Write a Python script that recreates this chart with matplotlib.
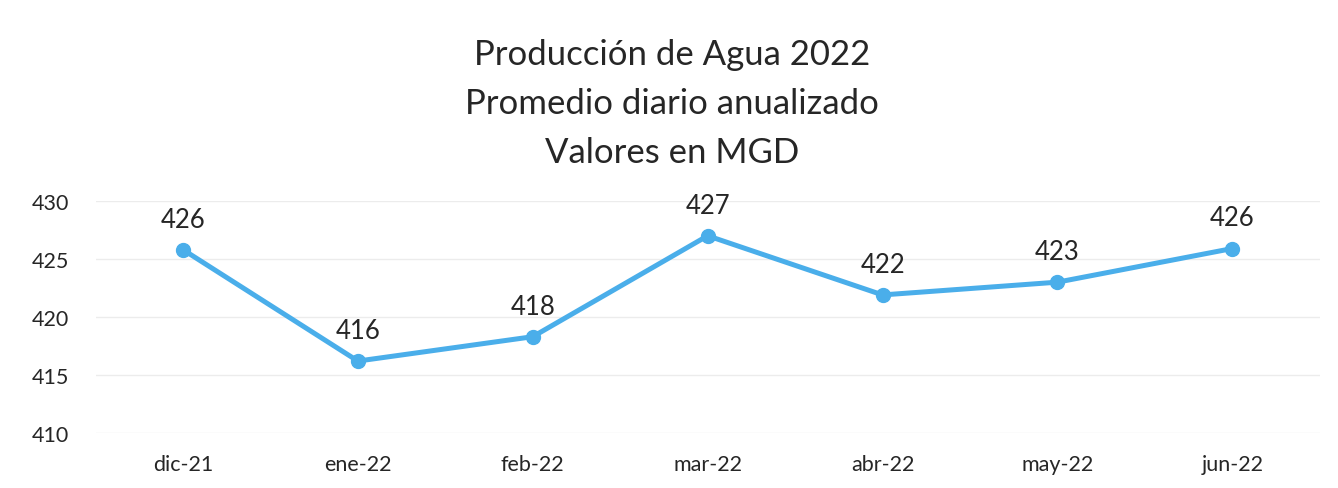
import matplotlib
matplotlib.use("Agg")
import matplotlib.pyplot as plt

months = ["dic-21", "ene-22", "feb-22", "mar-22", "abr-22", "may-22", "jun-22"]
mgd = [425.8, 416.2, 418.3, 427.0, 421.9, 423.0, 425.9]
y_ticks = [410, 415, 420, 425, 430]
title = "Producción de Agua 2022\nPromedio diario anualizado\nValores en MGD"

plt.rcParams["font.family"] = ["Lato", "DejaVu Sans"]
LINE = "#4AAEEA"
TXT = "#262626"

fig = plt.figure(figsize=(13.38, 4.89), dpi=100)
ax = fig.add_axes([0.0714, 0.1125, 0.915, 0.4745])

x = list(range(len(months)))
ax.plot(x, mgd, color=LINE, lw=3.6, marker="o", ms=10, solid_capstyle="round", zorder=3)
for xi, v in zip(x, mgd):
    ax.annotate(f"{v:.0f}", (xi, v), xytext=(0, 13), textcoords="offset points",
                ha="center", va="bottom", fontsize=18.5, color=TXT)

ax.set_xlim(-0.5, len(months) - 0.5)
ax.set_ylim(410, 430)
ax.set_xticks(x)
ax.set_xticklabels(months, fontsize=15.5, color=TXT)
ax.set_yticks(y_ticks)
ax.set_yticklabels([str(t) for t in y_ticks], fontsize=15.5, color=TXT)
ax.tick_params(axis="x", length=0, pad=15)
ax.tick_params(axis="y", length=0, pad=19)
ax.grid(axis="y", color="#ececec", lw=1)
ax.set_axisbelow(True)
for s in ax.spines.values():
    s.set_visible(False)

fig.text(0.502, 0.92, title, ha="center", va="top", fontsize=25, color=TXT, linespacing=1.65)

fig.savefig("out.png", dpi=100)
